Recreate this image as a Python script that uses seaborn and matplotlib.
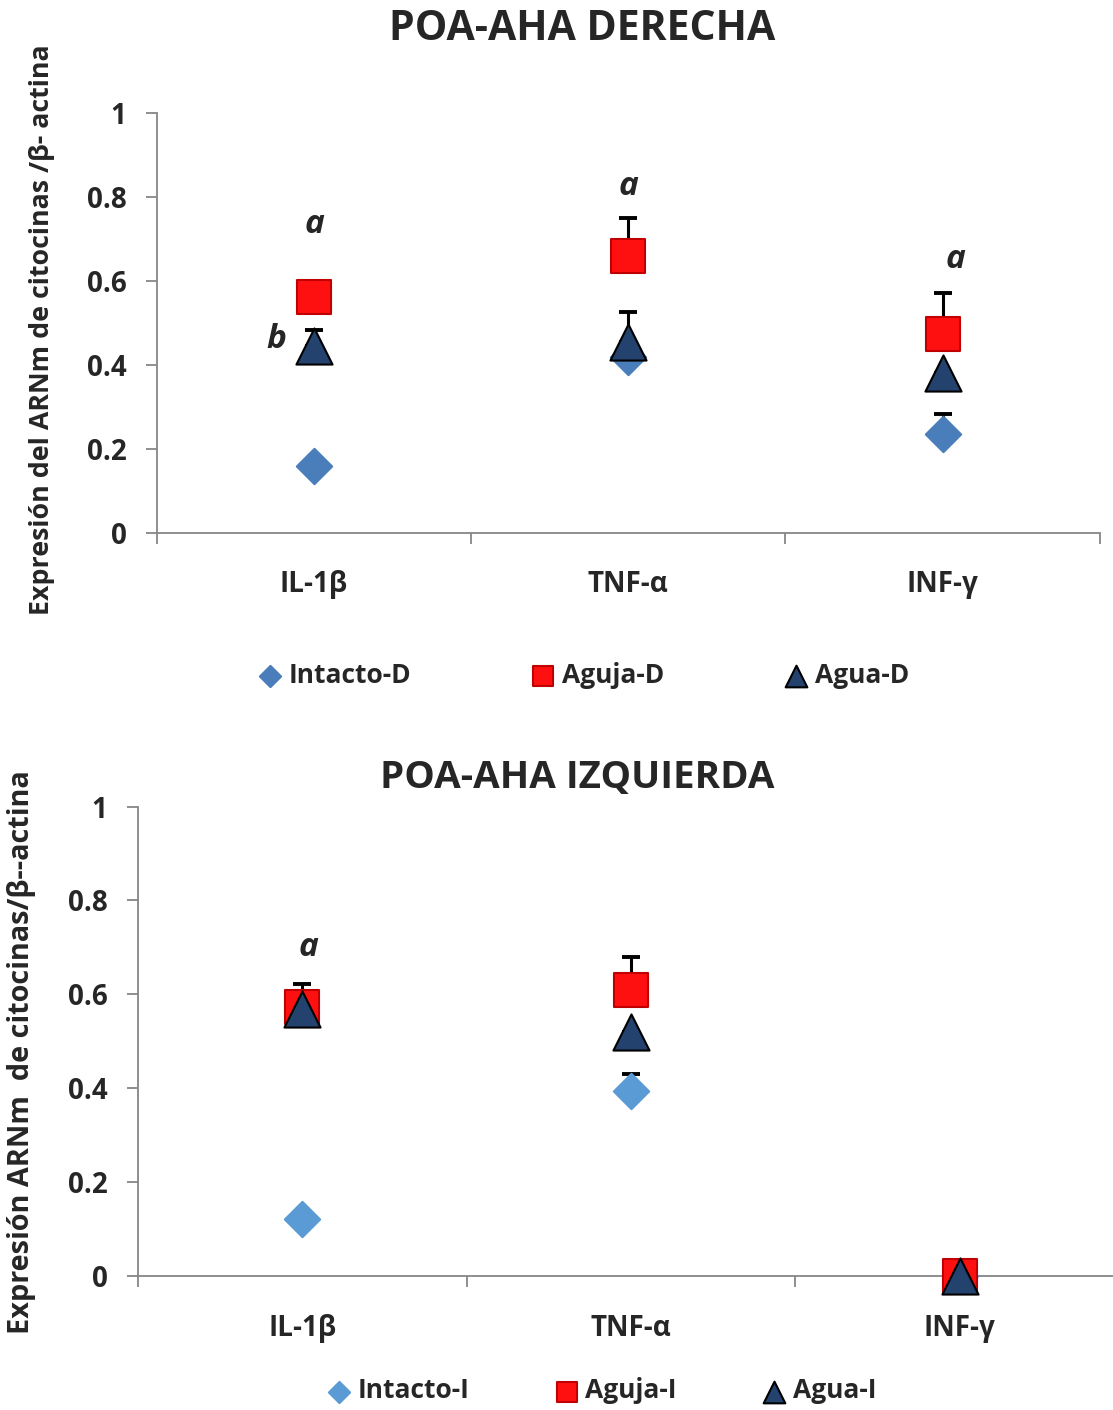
import numpy as np
import pandas as pd
import matplotlib
matplotlib.use("Agg")
import matplotlib.pyplot as plt
import seaborn as sns
from matplotlib.ticker import FixedLocator

sns.set_theme(style="white")
plt.rcParams['font.family'] = ['Open Sans', 'DejaVu Sans']
plt.rcParams['font.weight'] = 'bold'

categories = ["IL-1β", "TNF-α", "INF-γ"]

# Top panel: POA-AHA DERECHA
intacto_d = [0.16, 0.42, 0.236]
intacto_d_err = [0.0, 0.0, 0.047]
aguja_d = [0.562, 0.66, 0.474]
aguja_d_err = [0.0, 0.09, 0.096]
agua_d = [0.445, 0.455, 0.38]
agua_d_err = [0.038, 0.071, 0.0]

# Bottom panel: POA-AHA IZQUIERDA
intacto_i = [0.121, 0.394, 0.0]
intacto_i_err = [0.0, 0.036, 0.0]
aguja_i = [0.574, 0.609, 0.0]
aguja_i_err = [0.047, 0.071, 0.0]
agua_i = [0.568, 0.52, 0.0]
agua_i_err = [0.0, 0.0, 0.0]

top_letters = [("a", 0, 0.735), ("b", -0.12, 0.46), ("a", 1, 0.824), ("a", 2.04, 0.65)]
bottom_letters = [("a", 0.02, 0.70)]

fig = plt.figure(figsize=(11.13, 14.10), dpi=100)
ax1 = fig.add_axes([0.141, 0.622, 0.847, 0.298])
ax2 = fig.add_axes([0.124, 0.095, 0.886, 0.333])

spine_col = "#868686"


def panel(ax, series, names, letters, title, title_xy, title_size, ylabel, ylabel_xy,
          ylabel_size, leg_anchor, leg_spacing, diamond_color):
    x = np.arange(len(categories))
    markers = ["D", "s", "^"]
    sizes = [18, 25, 26]
    fills = [diamond_color, "#FF1010", "#23426E"]
    edges = [diamond_color, "#C00000", "#000000"]
    for (vals, errs), name, m, ms, fc, ec in zip(series, names, markers, sizes, fills, edges):
        df = pd.DataFrame({"cat": categories, "val": vals})
        ax.errorbar(x, vals, yerr=[np.zeros(len(errs)), errs], fmt="none",
                    ecolor="black", elinewidth=2.2, capsize=6.5, capthick=2.8, zorder=1,
                    clip_on=False)
        sns.scatterplot(data=df, x="cat", y="val", marker=m, s=ms ** 2, color=fc,
                        edgecolor=ec, linewidth=1.5, ax=ax, label=name, zorder=3,
                        clip_on=False)
    for txt, xx, yy in letters:
        ax.text(xx, yy, txt, ha="center", va="center", fontsize=24,
                fontweight="bold", fontstyle="italic")
    ax.set_xlim(-0.5, 2.5)
    ax.set_ylim(0, 1)
    ax.set_yticks([0, 0.2, 0.4, 0.6, 0.8, 1.0])
    ax.set_yticklabels(["0", "0.2", "0.4", "0.6", "0.8", "1"])
    ax.set_xticks(x)
    ax.set_xticklabels(categories)
    ax.xaxis.set_minor_locator(FixedLocator([-0.5, 0.5, 1.5, 2.5]))
    ax.tick_params(axis="x", which="major", length=0, pad=27, labelsize=20)
    ax.tick_params(axis="x", which="minor", length=8, width=1.3, color=spine_col,
                   direction="out", bottom=True)
    ax.tick_params(axis="y", which="major", length=8, width=1.3, color=spine_col,
                   direction="out", left=True, labelsize=20, pad=14)
    for lab in ax.get_xticklabels() + ax.get_yticklabels():
        lab.set_fontweight("bold")
    for s in ["top", "right"]:
        ax.spines[s].set_visible(False)
    for s in ["left", "bottom"]:
        ax.spines[s].set_color(spine_col)
        ax.spines[s].set_linewidth(1.3)
    ax.set_xlabel("")
    ax.set_ylabel(ylabel, fontsize=ylabel_size, fontweight="bold")
    ax.yaxis.set_label_coords(*ylabel_xy)
    fig.text(title_xy[0], title_xy[1], title, ha="center", va="center",
             fontsize=title_size, fontweight="bold")
    leg = ax.legend(loc="center", bbox_to_anchor=leg_anchor, bbox_transform=fig.transFigure,
                    ncol=3, frameon=False, fontsize=19, markerscale=0.6,
                    columnspacing=leg_spacing, handlelength=1.0, handletextpad=0.2,
                    borderaxespad=0, borderpad=0)
    for t in leg.get_texts():
        t.set_fontweight("bold")


panel(ax1, [(intacto_d, intacto_d_err), (aguja_d, aguja_d_err), (agua_d, agua_d_err)],
      ["Intacto-D", "Aguja-D", "Agua-D"], top_letters,
      "POA-AHA DERECHA", (582 / 1113, 1 - 30 / 1410), 29.5,
      "Expresión del ARNm de citocinas /β- actina", (-0.108, 0.483), 19.3,
      (583 / 1113, 1 - 675 / 1410), 4.5, "#4A7EBB")

panel(ax2, [(intacto_i, intacto_i_err), (aguja_i, aguja_i_err), (agua_i, agua_i_err)],
      ["Intacto-I", "Aguja-I", "Agua-I"], bottom_letters,
      "POA-AHA IZQUIERDA", (577 / 1113, 1 - 778 / 1410), 27.7,
      "Expresión ARNm  de citocinas/β--actina", (-0.103, 0.477), 20.8,
      (601 / 1113, 1 - 1391 / 1410), 3.2, "#5B9BD5")

fig.savefig("out.png", dpi=100)
